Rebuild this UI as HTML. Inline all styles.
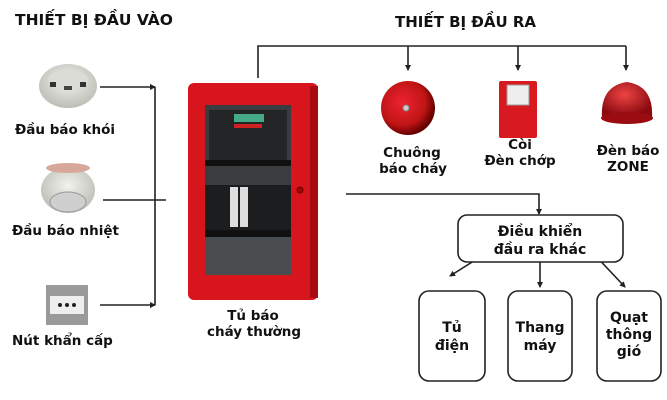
<!DOCTYPE html>
<html><head><meta charset="utf-8"><style>
html,body{margin:0;padding:0;background:#fff;width:667px;height:400px;overflow:hidden}
svg text{font-family:"DejaVu Sans","Liberation Sans",sans-serif;font-weight:bold;fill:#111}
</style></head><body>
<svg width="667" height="400" viewBox="0 0 667 400" xmlns="http://www.w3.org/2000/svg">
<defs>
<marker id="a" markerWidth="6" markerHeight="6" refX="5" refY="3" orient="auto" markerUnits="userSpaceOnUse"><path d="M0,0L6,3L0,6z" fill="#222"/></marker>
<radialGradient id="bell" cx="40%" cy="40%" r="60%"><stop offset="0" stop-color="#e23"/><stop offset="0.7" stop-color="#c01515"/><stop offset="1" stop-color="#600"/></radialGradient>
<radialGradient id="dome" cx="45%" cy="35%" r="60%"><stop offset="0" stop-color="#e44"/><stop offset="1" stop-color="#8a0a10"/></radialGradient>
<radialGradient id="det" cx="50%" cy="40%" r="60%"><stop offset="0" stop-color="#f2f2ee"/><stop offset="1" stop-color="#bdbdb6"/></radialGradient>
</defs>
<text x="15" y="25" font-size="15.5">THIẾT BỊ ĐẦU VÀO</text>
<text x="395" y="27" font-size="15">THIẾT BỊ ĐẦU RA</text>
<g stroke="#222" stroke-width="1.6" fill="none">
<path d="M258,78V46H626"/>
<path d="M408,46V70" marker-end="url(#a)"/>
<path d="M518,46V70" marker-end="url(#a)"/>
<path d="M626,46V70" marker-end="url(#a)"/>
<path d="M100,87H155" marker-end="url(#a)"/>
<path d="M100,305H155" marker-end="url(#a)"/>
<path d="M155,87V305"/>
<path d="M103,200H166"/>
<path d="M346,194H539V214" marker-end="url(#a)"/>
<path d="M488,252L450,276" marker-end="url(#a)"/>
<path d="M540,262V287" marker-end="url(#a)"/>
<path d="M592,252L625,287" marker-end="url(#a)"/>
</g>
<ellipse cx="68" cy="86" rx="29" ry="22" fill="url(#det)"/>
<ellipse cx="68" cy="80" rx="20" ry="10" fill="#dcdcd6"/>
<rect x="50" y="82" width="6" height="5" fill="#333"/><rect x="80" y="82" width="6" height="5" fill="#333"/><rect x="64" y="86" width="8" height="4" fill="#444"/>
<text x="15" y="134" font-size="13.5">Đầu báo khói</text>
<ellipse cx="68" cy="190" rx="27" ry="23" fill="url(#det)"/>
<ellipse cx="68" cy="168" rx="22" ry="5" fill="#d8a79a"/>
<ellipse cx="68" cy="202" rx="18" ry="10" fill="#cfcfcf" stroke="#999"/>
<text x="12" y="235" font-size="13.5">Đầu báo nhiệt</text>
<rect x="46" y="285" width="42" height="40" fill="#9a9a9a"/>
<rect x="50" y="296" width="34" height="18" fill="#eee"/>
<circle cx="60" cy="305" r="2" fill="#222"/><circle cx="67" cy="305" r="2" fill="#222"/><circle cx="74" cy="305" r="2" fill="#222"/>
<text x="12" y="345" font-size="13.5">Nút khẩn cấp</text>
<rect x="188" y="83" width="130" height="217" rx="6" fill="#d8141c"/>
<rect x="310" y="86" width="8" height="212" fill="#a80c12"/>
<rect x="205" y="105" width="86" height="170" fill="#3a3d40"/>
<rect x="209" y="110" width="78" height="50" fill="#232527"/>
<rect x="234" y="114" width="30" height="8" fill="#4a8"/>
<rect x="234" y="124" width="28" height="4" fill="#c22"/>
<rect x="205" y="160" width="86" height="6" fill="#111"/>
<rect x="205" y="185" width="86" height="45" fill="#1c1d1f"/>
<rect x="230" y="187" width="8" height="40" fill="#ddd"/><rect x="240" y="187" width="8" height="40" fill="#ddd"/>
<rect x="205" y="230" width="86" height="7" fill="#111"/>
<rect x="205" y="237" width="86" height="38" fill="#4a4d50"/>
<circle cx="300" cy="190" r="3" fill="#a00" stroke="#600"/>
<text x="253" y="320" font-size="13.5" text-anchor="middle">Tủ báo</text>
<text x="254" y="336" font-size="13.5" text-anchor="middle">cháy thường</text>
<circle cx="408" cy="108" r="27" fill="url(#bell)"/>
<circle cx="406" cy="108" r="3" fill="#ccc" stroke="#888"/>
<text x="412" y="157" font-size="13.5" text-anchor="middle">Chuông</text>
<text x="413" y="173" font-size="13.5" text-anchor="middle">báo cháy</text>
<rect x="499" y="81" width="38" height="57" rx="2" fill="#d81920"/>
<rect x="507" y="85" width="22" height="20" fill="#eee" stroke="#999"/>
<text x="520" y="149" font-size="13.5" text-anchor="middle">Còi</text>
<text x="520" y="165" font-size="13.5" text-anchor="middle">Đèn chớp</text>
<path d="M602,118Q600,86 627,82Q654,86 652,118Z" fill="url(#dome)"/>
<ellipse cx="627" cy="118" rx="26" ry="6" fill="#9a0c12"/>
<text x="628" y="155" font-size="13.5" text-anchor="middle">Đèn báo</text>
<text x="628" y="171" font-size="13.5" text-anchor="middle">ZONE</text>
<g fill="#fff" stroke="#222" stroke-width="1.6">
<rect x="458" y="215" width="165" height="47" rx="9"/>
<rect x="419" y="291" width="66" height="90" rx="10"/>
<rect x="508" y="291" width="64" height="90" rx="10"/>
<rect x="597" y="291" width="64" height="90" rx="10"/>
</g>
<text x="540" y="236" font-size="14" text-anchor="middle">Điều khiển</text>
<text x="540" y="254" font-size="14" text-anchor="middle">đầu ra khác</text>
<text x="452" y="332" font-size="14" text-anchor="middle">Tủ</text>
<text x="452" y="350" font-size="14" text-anchor="middle">điện</text>
<text x="540" y="332" font-size="14" text-anchor="middle">Thang</text>
<text x="540" y="350" font-size="14" text-anchor="middle">máy</text>
<text x="629" y="322" font-size="14" text-anchor="middle">Quạt</text>
<text x="629" y="339" font-size="14" text-anchor="middle">thông</text>
<text x="629" y="356" font-size="14" text-anchor="middle">gió</text>
</svg>
</body></html>
